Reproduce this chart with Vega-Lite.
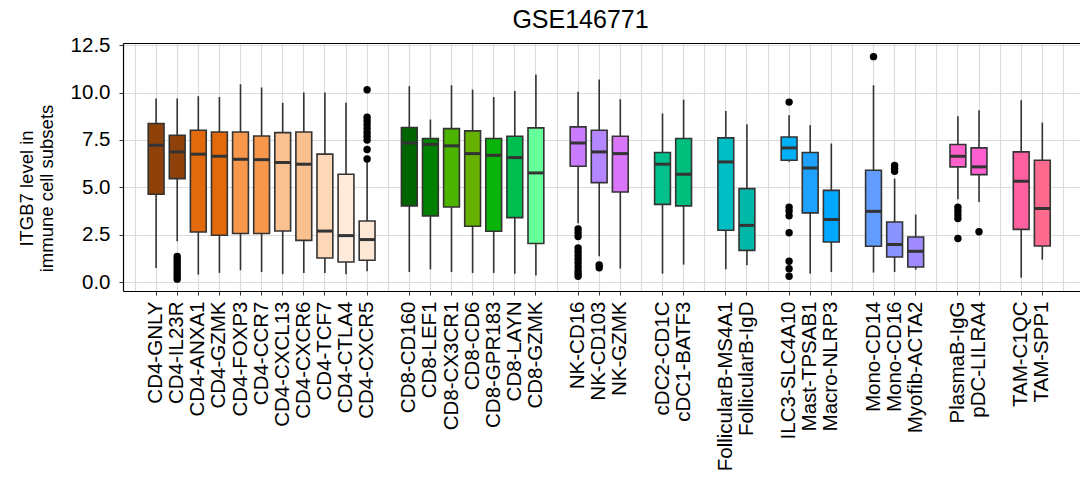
{
  "$schema": "https://vega.github.io/schema/vega-lite/v6.json",
  "width": 957,
  "height": 248,
  "autosize": {"type": "none"},
  "padding": {"left": 123, "top": 43, "right": 0, "bottom": 196},
  "background": "white",
  "config": {
    "view": {"stroke": null},
    "font": "Liberation Sans"
  },
  "title": {
    "text": "GSE146771",
    "fontSize": 25,
    "fontWeight": "normal",
    "color": "black",
    "anchor": "middle",
    "dx": -21,
    "offset": 2
  },
  "datasets": {
    "stats": [
      {"cat": "CD4-GNLY", "lo": 0.74, "q1": 4.63, "med": 7.22, "q3": 8.37, "hi": 9.69},
      {"cat": "CD4-IL23R", "lo": 2.15, "q1": 5.46, "med": 6.87, "q3": 7.75, "hi": 9.69},
      {"cat": "CD4-ANXA1", "lo": 0.39, "q1": 2.64, "med": 6.75, "q3": 8.01, "hi": 9.81},
      {"cat": "CD4-GZMK", "lo": 0.48, "q1": 2.47, "med": 6.64, "q3": 7.92, "hi": 9.77},
      {"cat": "CD4-FOXP3", "lo": 0.62, "q1": 2.56, "med": 6.48, "q3": 7.92, "hi": 10.44},
      {"cat": "CD4-CCR7", "lo": 0.53, "q1": 2.56, "med": 6.46, "q3": 7.71, "hi": 10.27},
      {"cat": "CD4-CXCL13", "lo": 0.41, "q1": 2.69, "med": 6.31, "q3": 7.89, "hi": 9.46},
      {"cat": "CD4-CXCR6", "lo": 0.48, "q1": 2.2, "med": 6.22, "q3": 7.92, "hi": 10.0},
      {"cat": "CD4-TCF7", "lo": 0.48, "q1": 1.27, "med": 2.69, "q3": 6.75, "hi": 10.0},
      {"cat": "CD4-CTLA4", "lo": 0.41, "q1": 1.06, "med": 2.45, "q3": 5.69, "hi": 9.46},
      {"cat": "CD4-CXCR5", "lo": 0.57, "q1": 1.15, "med": 2.24, "q3": 3.22, "hi": 6.34},
      {"cat": "CD8-CD160", "lo": 0.53, "q1": 4.02, "med": 7.34, "q3": 8.16, "hi": 10.34},
      {"cat": "CD8-LEF1", "lo": 0.67, "q1": 3.49, "med": 7.26, "q3": 7.58, "hi": 8.58},
      {"cat": "CD8-CX3CR1", "lo": 0.53, "q1": 3.96, "med": 7.19, "q3": 8.1, "hi": 10.39},
      {"cat": "CD8-CD6", "lo": 0.48, "q1": 2.94, "med": 6.78, "q3": 7.98, "hi": 10.16},
      {"cat": "CD8-GPR183", "lo": 0.48, "q1": 2.68, "med": 6.69, "q3": 7.58, "hi": 9.77},
      {"cat": "CD8-LAYN", "lo": 0.44, "q1": 3.4, "med": 6.57, "q3": 7.7, "hi": 10.09},
      {"cat": "CD8-GZMK", "lo": 0.35, "q1": 2.03, "med": 5.76, "q3": 8.14, "hi": 10.96},
      {"cat": "NK-CD16", "lo": 3.1, "q1": 6.11, "med": 7.34, "q3": 8.19, "hi": 10.04},
      {"cat": "NK-CD103", "lo": 1.36, "q1": 5.25, "med": 6.87, "q3": 8.01, "hi": 10.69},
      {"cat": "NK-GZMK", "lo": 0.71, "q1": 4.75, "med": 6.78, "q3": 7.7, "hi": 9.65},
      {"cat": "cDC2-CD1C", "lo": 0.44, "q1": 4.1, "med": 6.22, "q3": 6.84, "hi": 8.9},
      {"cat": "cDC1-BATF3", "lo": 0.92, "q1": 4.02, "med": 5.69, "q3": 7.58, "hi": 9.63},
      {"cat": "FollicularB-MS4A1", "lo": 0.67, "q1": 2.73, "med": 6.34, "q3": 7.61, "hi": 9.03},
      {"cat": "FollicularB-IgD", "lo": 0.88, "q1": 1.67, "med": 2.99, "q3": 4.93, "hi": 8.33},
      {"cat": "ILC3-SLC4A10", "lo": 6.35, "q1": 6.43, "med": 7.08, "q3": 7.66, "hi": 8.81},
      {"cat": "Mast-TPSAB1", "lo": 0.44, "q1": 3.65, "med": 6.02, "q3": 6.84, "hi": 8.28},
      {"cat": "Macro-NLRP3", "lo": 0.53, "q1": 2.11, "med": 3.3, "q3": 4.84, "hi": 7.31},
      {"cat": "Mono-CD14", "lo": 0.5, "q1": 1.89, "med": 3.73, "q3": 5.9, "hi": 10.39},
      {"cat": "Mono-CD16", "lo": 0.53, "q1": 1.32, "med": 1.98, "q3": 3.17, "hi": 5.46},
      {"cat": "Myofib-ACTA2", "lo": 0.65, "q1": 0.79, "med": 1.62, "q3": 2.38, "hi": 3.56},
      {"cat": "PlasmaB-IgG", "lo": 4.37, "q1": 6.08, "med": 6.64, "q3": 7.26, "hi": 8.75},
      {"cat": "pDC-LILRA4", "lo": 4.23, "q1": 5.67, "med": 6.08, "q3": 7.08, "hi": 9.07},
      {"cat": "TAM-C1QC", "lo": 0.23, "q1": 2.78, "med": 5.32, "q3": 6.87, "hi": 9.6},
      {"cat": "TAM-SPP1", "lo": 1.18, "q1": 1.9, "med": 3.88, "q3": 6.43, "hi": 8.42}
    ],
    "outliers": [
      {"cat": "CD4-IL23R", "v": 1.35}, {"cat": "CD4-IL23R", "v": 1.2}, {"cat": "CD4-IL23R", "v": 1.05},
      {"cat": "CD4-IL23R", "v": 0.9}, {"cat": "CD4-IL23R", "v": 0.75}, {"cat": "CD4-IL23R", "v": 0.6},
      {"cat": "CD4-IL23R", "v": 0.45}, {"cat": "CD4-IL23R", "v": 0.3}, {"cat": "CD4-IL23R", "v": 0.15},
      {"cat": "CD4-CXCR5", "v": 10.15}, {"cat": "CD4-CXCR5", "v": 8.7}, {"cat": "CD4-CXCR5", "v": 8.5},
      {"cat": "CD4-CXCR5", "v": 8.3}, {"cat": "CD4-CXCR5", "v": 8.1}, {"cat": "CD4-CXCR5", "v": 7.9},
      {"cat": "CD4-CXCR5", "v": 7.7}, {"cat": "CD4-CXCR5", "v": 7.5}, {"cat": "CD4-CXCR5", "v": 7.0},
      {"cat": "CD4-CXCR5", "v": 6.5},
      {"cat": "NK-CD16", "v": 2.8}, {"cat": "NK-CD16", "v": 2.6}, {"cat": "NK-CD16", "v": 2.4},
      {"cat": "NK-CD16", "v": 1.8}, {"cat": "NK-CD16", "v": 1.6}, {"cat": "NK-CD16", "v": 1.4},
      {"cat": "NK-CD16", "v": 1.2}, {"cat": "NK-CD16", "v": 1.0}, {"cat": "NK-CD16", "v": 0.8},
      {"cat": "NK-CD16", "v": 0.6}, {"cat": "NK-CD16", "v": 0.45}, {"cat": "NK-CD16", "v": 0.3},
      {"cat": "NK-CD103", "v": 0.9}, {"cat": "NK-CD103", "v": 0.75},
      {"cat": "ILC3-SLC4A10", "v": 9.5}, {"cat": "ILC3-SLC4A10", "v": 3.95}, {"cat": "ILC3-SLC4A10", "v": 3.75},
      {"cat": "ILC3-SLC4A10", "v": 3.5}, {"cat": "ILC3-SLC4A10", "v": 2.6}, {"cat": "ILC3-SLC4A10", "v": 1.1},
      {"cat": "ILC3-SLC4A10", "v": 0.7}, {"cat": "ILC3-SLC4A10", "v": 0.3},
      {"cat": "Mono-CD14", "v": 11.9},
      {"cat": "Mono-CD16", "v": 6.15}, {"cat": "Mono-CD16", "v": 6.0}, {"cat": "Mono-CD16", "v": 5.85},
      {"cat": "PlasmaB-IgG", "v": 3.95}, {"cat": "PlasmaB-IgG", "v": 3.75}, {"cat": "PlasmaB-IgG", "v": 3.55},
      {"cat": "PlasmaB-IgG", "v": 3.35}, {"cat": "PlasmaB-IgG", "v": 2.3},
      {"cat": "pDC-LILRA4", "v": 2.65}
    ]
  },
  "resolve": {"axis": {"x": "independent"}},
  "layer": [
    {
      "data": {"name": "stats"},
      "mark": {"type": "rule", "color": "#333333", "strokeWidth": 1.6},
      "encoding": {
        "x": {
          "field": "cat", "type": "nominal", "title": null,
          "scale": {
            "type": "band", "paddingInner": 0, "paddingOuter": 0.1775, "align": 0.194,
            "domain": ["gap0", "CD4-GNLY", "CD4-IL23R", "CD4-ANXA1", "CD4-GZMK", "CD4-FOXP3", "CD4-CCR7", "CD4-CXCL13", "CD4-CXCR6", "CD4-TCF7", "CD4-CTLA4", "CD4-CXCR5", "gap1", "CD8-CD160", "CD8-LEF1", "CD8-CX3CR1", "CD8-CD6", "CD8-GPR183", "CD8-LAYN", "CD8-GZMK", "gap2", "NK-CD16", "NK-CD103", "NK-GZMK", "gap3", "cDC2-CD1C", "cDC1-BATF3", "gap4", "FollicularB-MS4A1", "FollicularB-IgD", "gap5", "ILC3-SLC4A10", "Mast-TPSAB1", "Macro-NLRP3", "gap6", "Mono-CD14", "Mono-CD16", "Myofib-ACTA2", "gap7", "PlasmaB-IgG", "pDC-LILRA4", "gap8", "TAM-C1QC", "TAM-SPP1", "gap9"]
          },
          "axis": {
            "orient": "bottom",
            "grid": true, "gridColor": "#DCDCDC", "gridWidth": 1.2,
            "domain": true, "domainColor": "black", "domainWidth": 1.2,
            "ticks": true, "tickSize": 4, "tickColor": "#333333", "tickWidth": 1,
            "tickOpacity": {"condition": {"test": "indexof(datum.value, 'gap') === 0", "value": 0}, "value": 1},
            "labelAngle": -90, "labelFontSize": 20.5, "labelColor": "black", "labelPadding": 6,
            "labelExpr": "indexof(datum.label, 'gap') === 0 ? '' : datum.label"
          }
        },
        "y": {
          "field": "lo", "type": "quantitative",
          "title": ["ITGB7 level in", "immune cell subsets"],
          "scale": {"domain": [-0.475, 12.62], "nice": false, "zero": false},
          "axis": {
            "values": [0, 1.25, 2.5, 3.75, 5, 6.25, 7.5, 8.75, 10, 11.25, 12.5],
            "grid": true, "gridColor": "#DCDCDC", "gridWidth": 1.2,
            "domain": true, "domainColor": "black", "domainWidth": 1.2,
            "tickSize": 4, "tickColor": "#333333", "tickWidth": 1,
            "tickOpacity": {"condition": {"test": "datum.value % 2.5 !== 0", "value": 0}, "value": 1},
            "labelExpr": "datum.value % 2.5 === 0 ? format(datum.value, '.1f') : ''",
            "labelFontSize": 20.5, "labelColor": "black", "labelPadding": 9,
            "titleFontSize": 18.5, "titleFontWeight": "normal", "titleColor": "black",
            "titleAngle": -90, "titleX": -91, "titleY": 145, "titleAlign": "center",
            "titleBaseline": "alphabetic", "titleLineHeight": 20.5
          }
        },
        "y2": {"field": "hi"}
      }
    },
    {
      "data": {"name": "stats"},
      "mark": {"type": "bar", "width": {"band": 0.75}, "stroke": "#333333", "strokeWidth": 1.6, "opacity": 1},
      "encoding": {
        "x": {"field": "cat", "type": "nominal", "axis": null,
          "scale": {
            "type": "band", "paddingInner": 0, "paddingOuter": 0.1775, "align": 0.194,
            "domain": ["gap0", "CD4-GNLY", "CD4-IL23R", "CD4-ANXA1", "CD4-GZMK", "CD4-FOXP3", "CD4-CCR7", "CD4-CXCL13", "CD4-CXCR6", "CD4-TCF7", "CD4-CTLA4", "CD4-CXCR5", "gap1", "CD8-CD160", "CD8-LEF1", "CD8-CX3CR1", "CD8-CD6", "CD8-GPR183", "CD8-LAYN", "CD8-GZMK", "gap2", "NK-CD16", "NK-CD103", "NK-GZMK", "gap3", "cDC2-CD1C", "cDC1-BATF3", "gap4", "FollicularB-MS4A1", "FollicularB-IgD", "gap5", "ILC3-SLC4A10", "Mast-TPSAB1", "Macro-NLRP3", "gap6", "Mono-CD14", "Mono-CD16", "Myofib-ACTA2", "gap7", "PlasmaB-IgG", "pDC-LILRA4", "gap8", "TAM-C1QC", "TAM-SPP1", "gap9"]
          }},
        "y": {"field": "q1", "type": "quantitative", "title": ["ITGB7 level in", "immune cell subsets"],
          "scale": {"domain": [-0.475, 12.62], "nice": false, "zero": false}},
        "y2": {"field": "q3"},
        "fill": {
          "field": "cat", "type": "nominal", "legend": null,
          "scale": {
            "domain": ["CD4-GNLY", "CD4-IL23R", "CD4-ANXA1", "CD4-GZMK", "CD4-FOXP3", "CD4-CCR7", "CD4-CXCL13", "CD4-CXCR6", "CD4-TCF7", "CD4-CTLA4", "CD4-CXCR5", "CD8-CD160", "CD8-LEF1", "CD8-CX3CR1", "CD8-CD6", "CD8-GPR183", "CD8-LAYN", "CD8-GZMK", "NK-CD16", "NK-CD103", "NK-GZMK", "cDC2-CD1C", "cDC1-BATF3", "FollicularB-MS4A1", "FollicularB-IgD", "ILC3-SLC4A10", "Mast-TPSAB1", "Macro-NLRP3", "Mono-CD14", "Mono-CD16", "Myofib-ACTA2", "PlasmaB-IgG", "pDC-LILRA4", "TAM-C1QC", "TAM-SPP1"],
            "range": ["#8E4209", "#8E4209", "#E36A0C", "#E36A0C", "#F7974B", "#F7974B", "#F9C18F", "#F9C18F", "#FDD8B8", "#FEEBDC", "#FDE8D6", "#006400", "#008000", "#4CB400", "#66B000", "#0AB40A", "#00BD50", "#66FF99", "#C97CFF", "#B487FF", "#D875F8", "#00C08B", "#00BF7D", "#00BFC4", "#00B8A8", "#00B0F6", "#1FA2FF", "#00A9FF", "#619CFF", "#8B93FF", "#9F8AFF", "#FF61CC", "#FF5FD0", "#FF61A0", "#FF6B8E"]
          }
        }
      }
    },
    {
      "data": {"name": "stats"},
      "mark": {"type": "tick", "color": "#333333", "thickness": 3, "size": 15.8, "opacity": 1},
      "encoding": {
        "x": {"field": "cat", "type": "nominal", "axis": null,
          "scale": {
            "type": "band", "paddingInner": 0, "paddingOuter": 0.1775, "align": 0.194,
            "domain": ["gap0", "CD4-GNLY", "CD4-IL23R", "CD4-ANXA1", "CD4-GZMK", "CD4-FOXP3", "CD4-CCR7", "CD4-CXCL13", "CD4-CXCR6", "CD4-TCF7", "CD4-CTLA4", "CD4-CXCR5", "gap1", "CD8-CD160", "CD8-LEF1", "CD8-CX3CR1", "CD8-CD6", "CD8-GPR183", "CD8-LAYN", "CD8-GZMK", "gap2", "NK-CD16", "NK-CD103", "NK-GZMK", "gap3", "cDC2-CD1C", "cDC1-BATF3", "gap4", "FollicularB-MS4A1", "FollicularB-IgD", "gap5", "ILC3-SLC4A10", "Mast-TPSAB1", "Macro-NLRP3", "gap6", "Mono-CD14", "Mono-CD16", "Myofib-ACTA2", "gap7", "PlasmaB-IgG", "pDC-LILRA4", "gap8", "TAM-C1QC", "TAM-SPP1", "gap9"]
          }},
        "y": {"field": "med", "type": "quantitative", "title": ["ITGB7 level in", "immune cell subsets"],
          "scale": {"domain": [-0.475, 12.62], "nice": false, "zero": false}}
      }
    },
    {
      "data": {"name": "outliers"},
      "mark": {"type": "circle", "color": "black", "size": 55, "opacity": 1},
      "encoding": {
        "x": {"field": "cat", "type": "nominal",
          "scale": {
            "type": "band", "paddingInner": 0, "paddingOuter": 0.1775, "align": 0.194,
            "domain": ["gap0", "CD4-GNLY", "CD4-IL23R", "CD4-ANXA1", "CD4-GZMK", "CD4-FOXP3", "CD4-CCR7", "CD4-CXCL13", "CD4-CXCR6", "CD4-TCF7", "CD4-CTLA4", "CD4-CXCR5", "gap1", "CD8-CD160", "CD8-LEF1", "CD8-CX3CR1", "CD8-CD6", "CD8-GPR183", "CD8-LAYN", "CD8-GZMK", "gap2", "NK-CD16", "NK-CD103", "NK-GZMK", "gap3", "cDC2-CD1C", "cDC1-BATF3", "gap4", "FollicularB-MS4A1", "FollicularB-IgD", "gap5", "ILC3-SLC4A10", "Mast-TPSAB1", "Macro-NLRP3", "gap6", "Mono-CD14", "Mono-CD16", "Myofib-ACTA2", "gap7", "PlasmaB-IgG", "pDC-LILRA4", "gap8", "TAM-C1QC", "TAM-SPP1", "gap9"]
          },
          "axis": {"orient": "top", "title": null, "labels": false, "ticks": false, "grid": false,
            "domain": true, "domainColor": "black", "domainWidth": 1.2}
        },
        "y": {"field": "v", "type": "quantitative", "title": ["ITGB7 level in", "immune cell subsets"],
          "scale": {"domain": [-0.475, 12.62], "nice": false, "zero": false}}
      }
    }
  ]
}
